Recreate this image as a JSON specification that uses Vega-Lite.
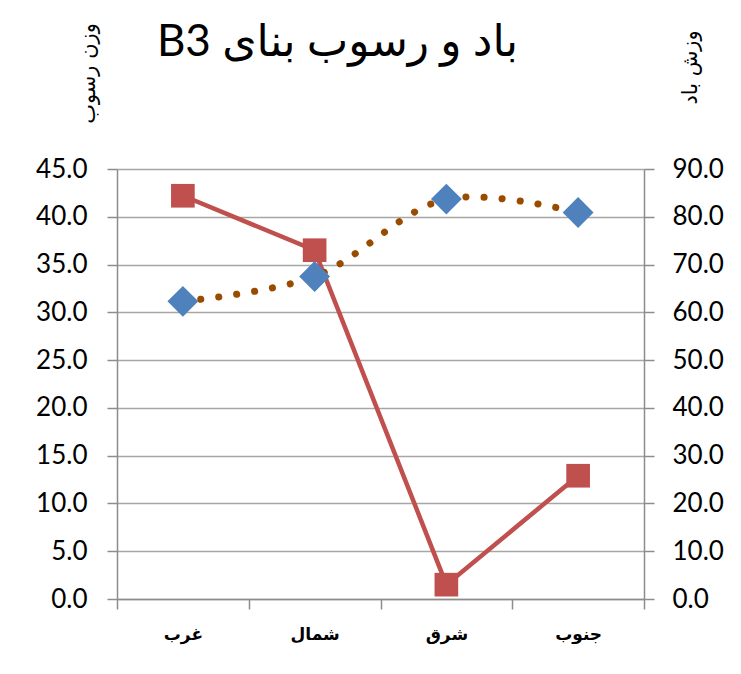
{
  "$schema": "https://vega.github.io/schema/vega-lite/v6.json",
  "width": 527,
  "height": 430,
  "autosize": {"type": "none"},
  "padding": {"left": 117, "top": 169, "right": 97, "bottom": 75},
  "background": "white",
  "title": {
    "text": "B3 باد و رسوب بنای",
    "font": "Lato, DejaVu Sans",
    "fontSize": 44,
    "fontWeight": "normal",
    "color": "#000000",
    "anchor": "middle",
    "frame": "group",
    "dx": -43,
    "dy": 46
  },
  "data": {
    "values": [
      {"dir": "غرب", "sed": 42.2, "wind": 62.3},
      {"dir": "شمال", "sed": 36.5, "wind": 67.5},
      {"dir": "شرق", "sed": 1.5, "wind": 83.7},
      {"dir": "جنوب", "sed": 12.9, "wind": 80.9}
    ]
  },
  "encoding": {
    "x": {
      "field": "dir",
      "type": "nominal",
      "sort": null,
      "scale": {"paddingInner": 0, "paddingOuter": 0},
      "axis": {
        "title": null,
        "labelAngle": 0,
        "labelFont": "DejaVu Sans",
        "labelFontSize": 17,
        "labelFontWeight": "bold",
        "labelColor": "#000000",
        "labelPadding": 17,
        "tickBand": "extent",
        "tickSize": 10,
        "tickColor": "#8c8c8c",
        "tickWidth": 1.5,
        "domainColor": "#8c8c8c",
        "domainWidth": 1.5,
        "grid": false
      }
    }
  },
  "layer": [
    {
      "encoding": {
        "y": {
          "field": "sed",
          "type": "quantitative",
          "scale": {"domain": [0, 45], "nice": false},
          "axis": {
            "orient": "left",
            "values": [0, 5, 10, 15, 20, 25, 30, 35, 40, 45],
            "format": ".1f",
            "title": "وزن رسوب",
            "titleFont": "DejaVu Sans",
            "titleFontSize": 21,
            "titleFontWeight": "normal",
            "titleColor": "#000000",
            "titleAngle": -90,
            "titleAlign": "center",
            "titleBaseline": "middle",
            "titleX": -29,
            "titleY": -96,
            "labelFont": "Lato",
            "labelFontSize": 26,
            "labelColor": "#000000",
            "labelPadding": 20,
            "tickSize": 10,
            "tickColor": "#8c8c8c",
            "tickWidth": 1.5,
            "domainColor": "#8c8c8c",
            "domainWidth": 1.5,
            "grid": true,
            "gridColor": "#a6a6a6",
            "gridWidth": 1.5
          }
        }
      },
      "layer": [
        {
          "mark": {"type": "line", "color": "#C0504D", "strokeWidth": 4.5},
          "encoding": {}
        },
        {
          "mark": {"type": "point", "shape": "square", "filled": true, "size": 560, "color": "#C0504D", "opacity": 1},
          "encoding": {}
        }
      ]
    },
    {
      "encoding": {
        "y": {
          "field": "wind",
          "type": "quantitative",
          "scale": {"domain": [0, 90], "nice": false},
          "axis": {
            "orient": "right",
            "values": [0, 10, 20, 30, 40, 50, 60, 70, 80, 90],
            "format": ".1f",
            "title": "وزش باد",
            "titleFont": "DejaVu Sans",
            "titleFontSize": 21,
            "titleFontWeight": "normal",
            "titleColor": "#000000",
            "titleAngle": -90,
            "titleAlign": "center",
            "titleBaseline": "middle",
            "titleX": 46,
            "titleY": -102,
            "labelFont": "Lato",
            "labelFontSize": 26,
            "labelColor": "#000000",
            "labelPadding": 18,
            "tickSize": 10,
            "tickColor": "#8c8c8c",
            "tickWidth": 1.5,
            "domainColor": "#8c8c8c",
            "domainWidth": 1.5,
            "grid": false
          }
        }
      },
      "layer": [
        {
          "mark": {"type": "line", "color": "#994C00", "strokeWidth": 7, "strokeCap": "round", "strokeDash": [0.1, 18], "interpolate": "catmull-rom"},
          "encoding": {}
        },
        {
          "mark": {"type": "point", "shape": "diamond", "filled": true, "size": 950, "color": "#4F81BD", "opacity": 1},
          "encoding": {}
        }
      ]
    }
  ],
  "resolve": {"scale": {"y": "independent"}},
  "config": {"view": {"stroke": null}}
}
